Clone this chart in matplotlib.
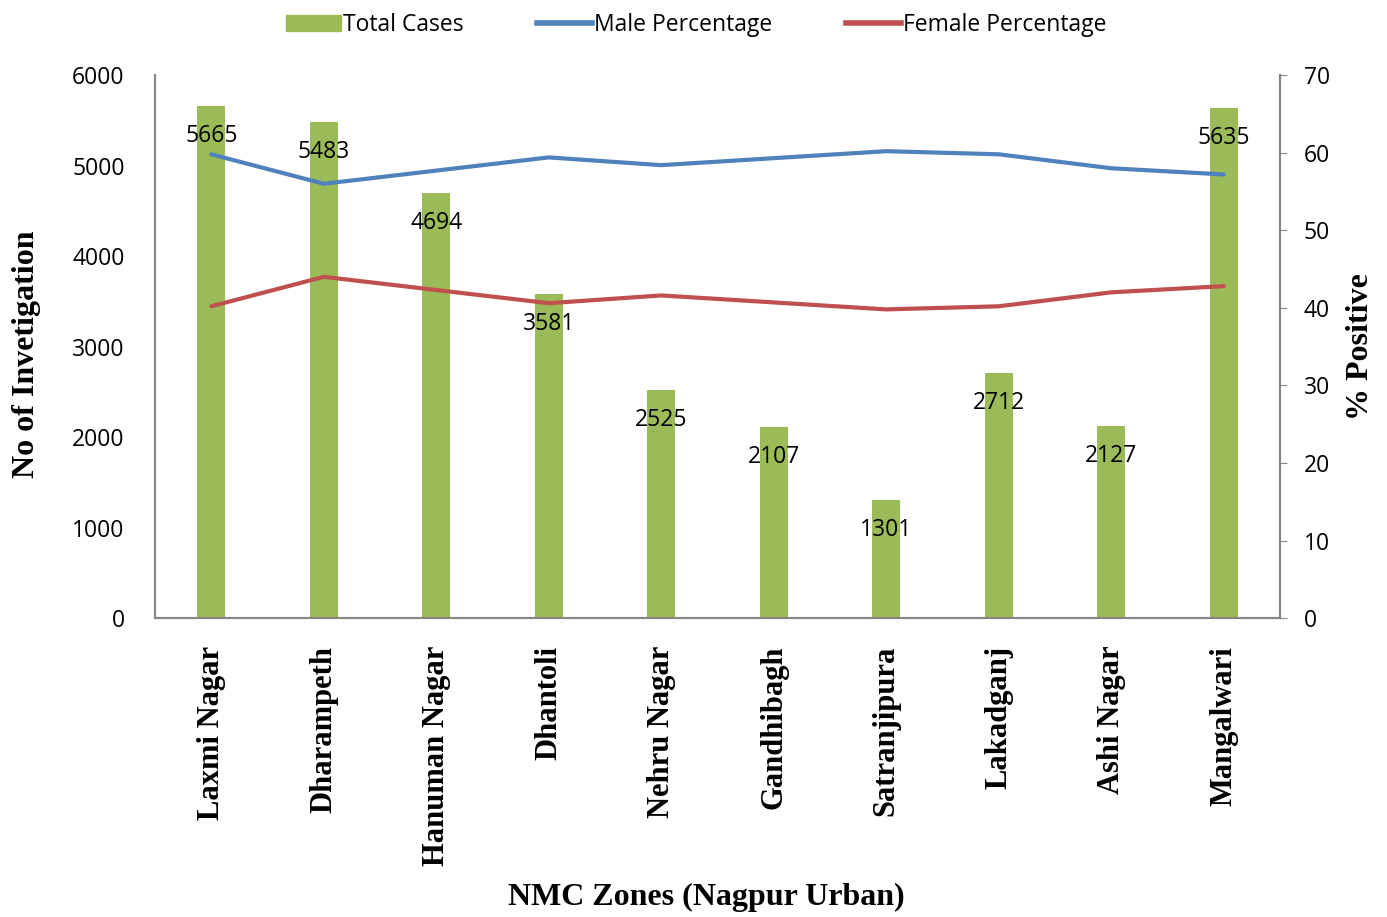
import numpy as np
import matplotlib.pyplot as plt
from matplotlib.lines import Line2D
from matplotlib.patches import Patch

zones = ['Laxmi Nagar', 'Dharampeth', 'Hanuman Nagar', 'Dhantoli', 'Nehru Nagar',
         'Gandhibagh', 'Satranjipura', 'Lakadganj', 'Ashi Nagar', 'Mangalwari']
total_cases = [5665, 5483, 4694, 3581, 2525, 2107, 1301, 2712, 2127, 5635]
male_pct = [59.8, 56.0, 57.7, 59.4, 58.4, 59.3, 60.2, 59.8, 58.0, 57.2]
female_pct = [40.2, 44.0, 42.3, 40.6, 41.6, 40.7, 39.8, 40.2, 42.0, 42.8]

green = '#9bbb59'
blue = '#4f81bd'
red = '#c0504d'
spine_col = '#868686'
sans = ['Open Sans', 'DejaVu Sans']
serif = ['Liberation Serif', 'DejaVu Serif']

fig = plt.figure(figsize=(13.87, 9.17), dpi=100)
ax = fig.add_axes([0.1118, 0.326, 0.811, 0.592])
ax2 = ax.twinx()

x = np.arange(len(zones))
ax.bar(x, total_cases, width=0.25, color=green, zorder=1)
# value labels sit a little below the bar top
for xi, v in zip(x, total_cases):
    ax.annotate(str(v), (xi, v), xytext=(0, -30), textcoords='offset pixels',
                ha='center', va='center', fontsize=16.5, family=sans, zorder=5)

ax2.plot(x, male_pct, color=blue, lw=3, solid_capstyle='round')
ax2.plot(x, female_pct, color=red, lw=3, solid_capstyle='round')

ax.set_xlim(-0.5, len(zones) - 0.5)
ax.set_ylim(0, 6000)
ax.set_yticks(range(0, 6001, 1000))
ax2.set_ylim(0, 70)
ax2.set_yticks(range(0, 71, 10))

ax.set_xticks(x)
ax.set_xticklabels(zones, rotation=90, fontsize=22, fontweight='bold', family=serif)
ax.tick_params(axis='x', length=0, pad=20)
ax.tick_params(axis='y', length=0, pad=22, labelsize=16.5)
ax2.tick_params(axis='y', length=5, color=spine_col, pad=12, labelsize=16.5)
for lab in ax.get_yticklabels() + ax2.get_yticklabels():
    lab.set_family(sans)

for a in (ax, ax2):
    a.spines['top'].set_visible(False)
    for s in ('left', 'right', 'bottom'):
        a.spines[s].set_color(spine_col)
        a.spines[s].set_linewidth(1.5)

ax.set_ylabel('No of Invetigation', fontsize=23, fontweight='bold', family=serif, labelpad=22)
ax.yaxis.label.set_y(0.486)
ax2.set_ylabel('% Positive', fontsize=23, fontweight='bold', family=serif, labelpad=12)
ax.set_xlabel('NMC Zones (Nagpur Urban)', fontsize=23, fontweight='bold', family=serif, labelpad=12)
ax.xaxis.label.set_x(0.49)

handles = [Patch(color=green, label='Total Cases'),
           Line2D([], [], color=blue, lw=4, label='Male Percentage'),
           Line2D([], [], color=red, lw=4, label='Female Percentage')]
fig.legend(handles=handles, loc='upper center', bbox_to_anchor=(0.502, 1.008), ncol=3,
           frameon=False, prop={'family': sans, 'size': 16.5}, handlelength=2.4,
           handletextpad=0.1, columnspacing=3.2)

fig.savefig('out.png', dpi=100)
